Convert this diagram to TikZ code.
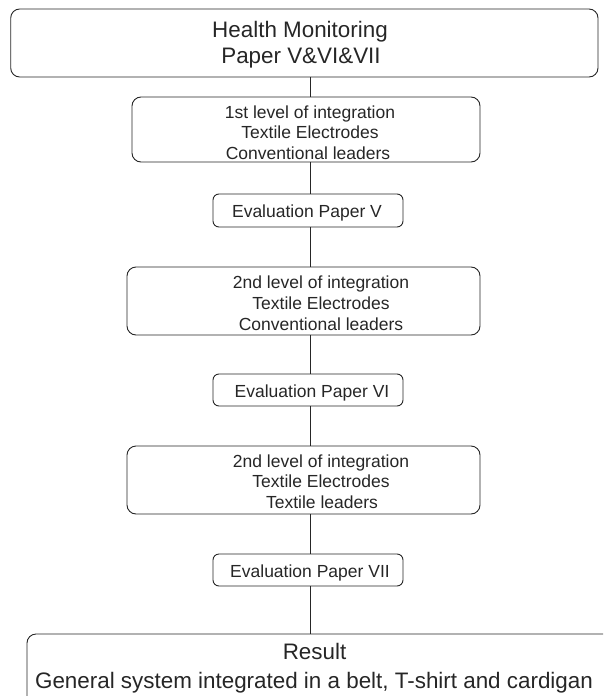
\documentclass[tikz,border=0pt]{standalone}
\usepackage{fontspec}
\setmainfont{Liberation Sans}
\begin{document}
\begin{tikzpicture}[x=1pt,y=-1pt,
  box/.style={draw=black!85, line width=0.9pt, rounded corners=9pt, inner sep=0pt},
  evalbox/.style={box, rounded corners=6pt},
  big/.style={font=\fontsize{22.4}{26}\selectfont, anchor=base, inner sep=0pt, text=black!85},
  small/.style={font=\fontsize{17.5}{20.5}\selectfont, anchor=base, inner sep=0pt, text=black!85},
  conn/.style={draw=black!85, line width=0.9pt}]
\useasboundingbox (0,0) rectangle (603,696);
\clip (0,0) rectangle (603,696);
% boxes
\node[box, minimum width=587.3pt, minimum height=68pt] (b1) at (304.35,43) {};
\node[box, minimum width=348pt, minimum height=65pt] (b2) at (306,129.5) {};
\node[evalbox, minimum width=190pt, minimum height=33pt] (e1) at (308,210.5) {};
\node[box, minimum width=353pt, minimum height=68pt] (b3) at (303.5,301) {};
\node[evalbox, minimum width=190pt, minimum height=32pt] (e2) at (308,390) {};
\node[box, minimum width=353pt, minimum height=68pt] (b4) at (303.5,480) {};
\node[evalbox, minimum width=190pt, minimum height=32pt] (e3) at (308,570) {};
\node[box, minimum width=613pt, minimum height=106pt] (res) at (333.5,687) {};
% texts
\node[big] (t1a) at (300,37) {Health Monitoring};
\node[big] (t1b) at (301,63) {Paper V\&VI\&VII};
\node[small] (t2a) at (310,118) {1st level of integration};
\node[small] (t2b) at (310,138.5) {Textile Electrodes};
\node[small] (t2c) at (308,159) {Conventional leaders};
\node[small] (te1) at (307,217) {Evaluation Paper V};
\node[small] (t3a) at (321,288) {2nd level of integration};
\node[small] (t3b) at (321,309) {Textile Electrodes};
\node[small] (t3c) at (321,330) {Conventional leaders};
\node[small] (te2) at (312,397) {Evaluation Paper VI};
\node[small] (t4a) at (321,467) {2nd level of integration};
\node[small] (t4b) at (321,487) {Textile Electrodes};
\node[small] (t4c) at (322,508) {Textile leaders};
\node[small] (te3) at (310,577) {Evaluation Paper VII};
\node[big] (tra) at (314.5,659) {Result};
\node[big] (trb) at (314,688) {General system integrated in a belt, T-shirt and cardigan};
% connectors
\coordinate (lx) at (310,0);
\draw[conn] (b1.south -| lx) -- (b2.north -| lx);
\draw[conn] (b2.south -| lx) -- (e1.north -| lx);
\draw[conn] (e1.south -| lx) -- (b3.north -| lx);
\draw[conn] (b3.south -| lx) -- (e2.north -| lx);
\draw[conn] (e2.south -| lx) -- (b4.north -| lx);
\draw[conn] (b4.south -| lx) -- (e3.north -| lx);
\draw[conn] (e3.south -| lx) -- (res.north -| lx);
\end{tikzpicture}
\end{document}
